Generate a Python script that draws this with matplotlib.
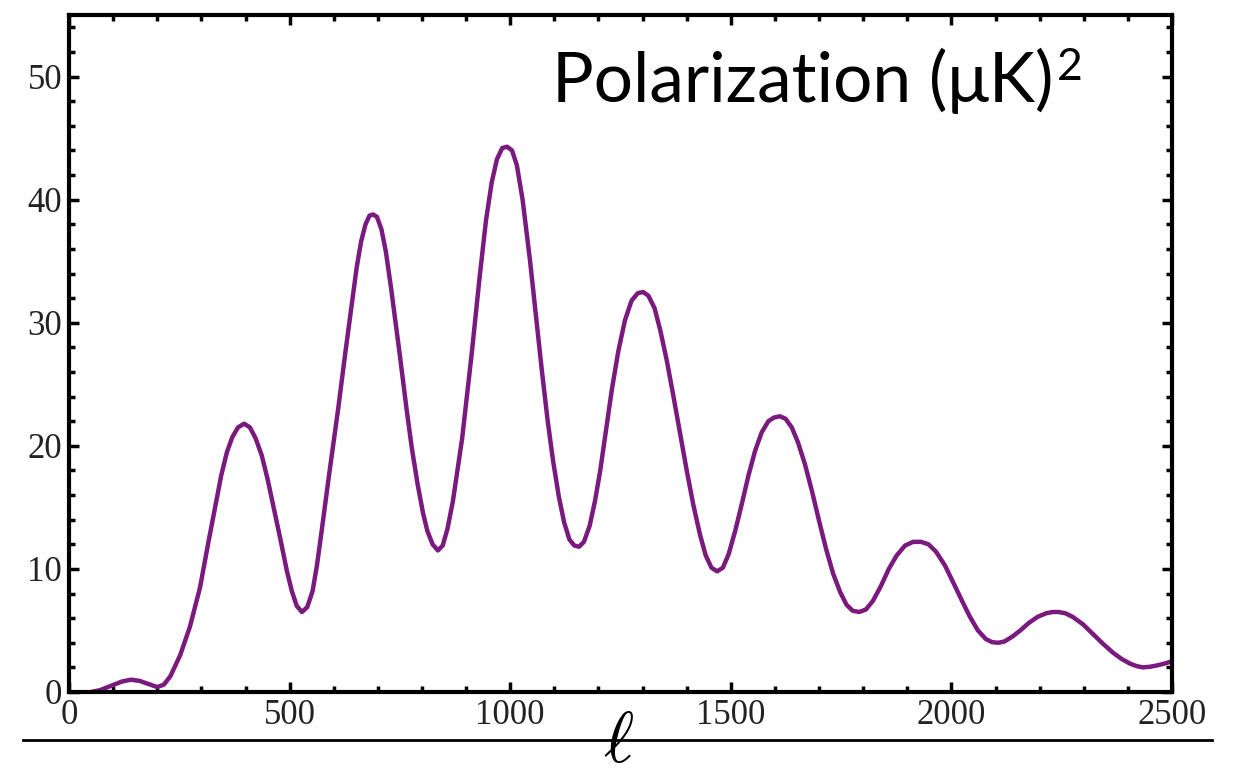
import numpy as np
import matplotlib
matplotlib.use("Agg")
import matplotlib.pyplot as plt
from matplotlib.ticker import MultipleLocator

# values (multipole l, polarization power in (uK)^2)
ell = [50, 70, 95, 120, 140, 160, 180, 200, 215, 230, 252, 274, 297, 315,
       331, 345, 358, 370, 383, 397, 410, 423, 437, 450, 462, 478, 494,
       505, 516, 528, 540, 552, 562, 573, 590, 610, 626, 641, 652, 662,
       672, 681, 689, 698, 708, 718, 730, 750, 765, 777, 790, 802, 812,
       824, 836, 847, 858, 870, 891, 913, 930, 945, 958, 970, 982, 993,
       1004, 1015, 1028, 1045, 1060, 1072, 1085, 1097, 1110, 1122, 1134,
       1145, 1156, 1167, 1180, 1192, 1204, 1216, 1230, 1245, 1260, 1275,
       1289, 1301, 1313, 1327, 1340, 1355, 1370, 1385, 1400, 1415, 1430,
       1443, 1456, 1469, 1482, 1495, 1510, 1525, 1540, 1555, 1570, 1585,
       1598, 1611, 1624, 1638, 1652, 1668, 1684, 1700, 1716, 1732, 1748,
       1762, 1776, 1791, 1806, 1822, 1840, 1858, 1876, 1895, 1913, 1931,
       1948, 1965, 1985, 2004, 2024, 2042, 2060, 2078, 2092, 2106, 2120,
       2138, 2156, 2175, 2195, 2215, 2230, 2242, 2258, 2275, 2298, 2321,
       2344, 2366, 2385, 2405, 2420, 2434, 2450, 2465, 2482, 2500]
power = [0.0, 0.15, 0.5, 0.85, 1.0, 0.9, 0.65, 0.4, 0.6, 1.3, 3.0, 5.3,
         8.5, 12.0, 15.0, 17.6, 19.5, 20.7, 21.5, 21.8, 21.5, 20.6, 19.2,
         17.3, 15.3, 12.6, 9.8, 8.2, 7.0, 6.5, 6.9, 8.2, 10.3, 13.2, 17.8,
         23.0, 27.5, 31.5, 34.5, 36.6, 38.0, 38.7, 38.8, 38.6, 37.6, 35.8,
         32.8, 27.3, 23.0, 19.8, 16.9, 14.6, 13.1, 12.0, 11.5, 11.9, 13.3,
         15.5, 20.6, 27.6, 33.5, 38.3, 41.4, 43.3, 44.2, 44.3, 44.0, 42.8,
         40.0, 35.0, 30.0, 26.0, 22.0, 18.8, 15.9, 13.8, 12.4, 11.9, 11.8,
         12.2, 13.5, 15.5, 18.0, 21.0, 24.5, 27.7, 30.2, 31.8, 32.4, 32.5,
         32.2, 31.2, 29.4, 26.9, 24.0, 21.0, 18.0, 15.2, 12.8, 11.1, 10.1,
         9.8, 10.1, 11.2, 13.1, 15.3, 17.6, 19.6, 21.1, 22.0, 22.3, 22.4,
         22.2, 21.5, 20.3, 18.5, 16.3, 13.9, 11.6, 9.6, 8.1, 7.1, 6.6, 6.5,
         6.7, 7.4, 8.6, 10.0, 11.1, 11.9, 12.2, 12.2, 12.0, 11.4, 10.3, 8.9,
         7.4, 6.1, 5.0, 4.3, 4.05, 4.0, 4.1, 4.5, 5.0, 5.6, 6.1, 6.4, 6.5,
         6.5, 6.4, 6.1, 5.5, 4.7, 3.9, 3.2, 2.7, 2.3, 2.1, 2.0, 2.05, 2.15,
         2.3, 2.5]

x_ticks = [0, 500, 1000, 1500, 2000, 2500]
y_ticks = [0, 10, 20, 30, 40, 50]

plt.rcParams['mathtext.fontset'] = 'cm'

fig = plt.figure(figsize=(12.37, 7.75), dpi=100)
ax = fig.add_axes([0.0558, 0.1071, 0.8917, 0.8735])

ax.plot(ell, power, color='#7a1a7f', lw=3.2, solid_joinstyle='round',
        solid_capstyle='round')

ax.set_xlim(0, 2500)
ax.set_ylim(0, 55)
ax.set_xticks(x_ticks)
ax.set_yticks(y_ticks)
ax.xaxis.set_minor_locator(MultipleLocator(100))
ax.yaxis.set_minor_locator(MultipleLocator(2))

for s in ax.spines.values():
    s.set_linewidth(3)
ax.tick_params(which='both', direction='in', top=True, right=True,
               width=2.5, colors='black')
ax.tick_params(which='major', length=7, labelsize=25, pad=5)
ax.tick_params(which='minor', length=4.5)
for lab in ax.get_xticklabels() + ax.get_yticklabels():
    lab.set_family('Liberation Serif')
    lab.set_color('#222222')

# title inside the axes
t = ax.text(0.438, 0.872, 'Polarization (μK)', transform=ax.transAxes,
            family=['Lato', 'DejaVu Sans'], fontsize=50,
            ha='left', va='baseline')
ax.annotate('2', xy=(1.0, 1.0), xycoords=t, xytext=(2, 0),
            textcoords='offset points', ha='left', va='top',
            family=['Lato', 'DejaVu Sans'], fontsize=32)

# underline and ell below the axis
fig.add_artist(plt.Line2D([23 / 1237, 1212 / 1237], [1 - 740 / 775] * 2,
                          color='black', lw=2))
fig.text(618 / 1237, 1 - 762 / 775, r'$\ell$', fontsize=52,
         ha='center', va='baseline')

fig.savefig('out.png', dpi=100)
